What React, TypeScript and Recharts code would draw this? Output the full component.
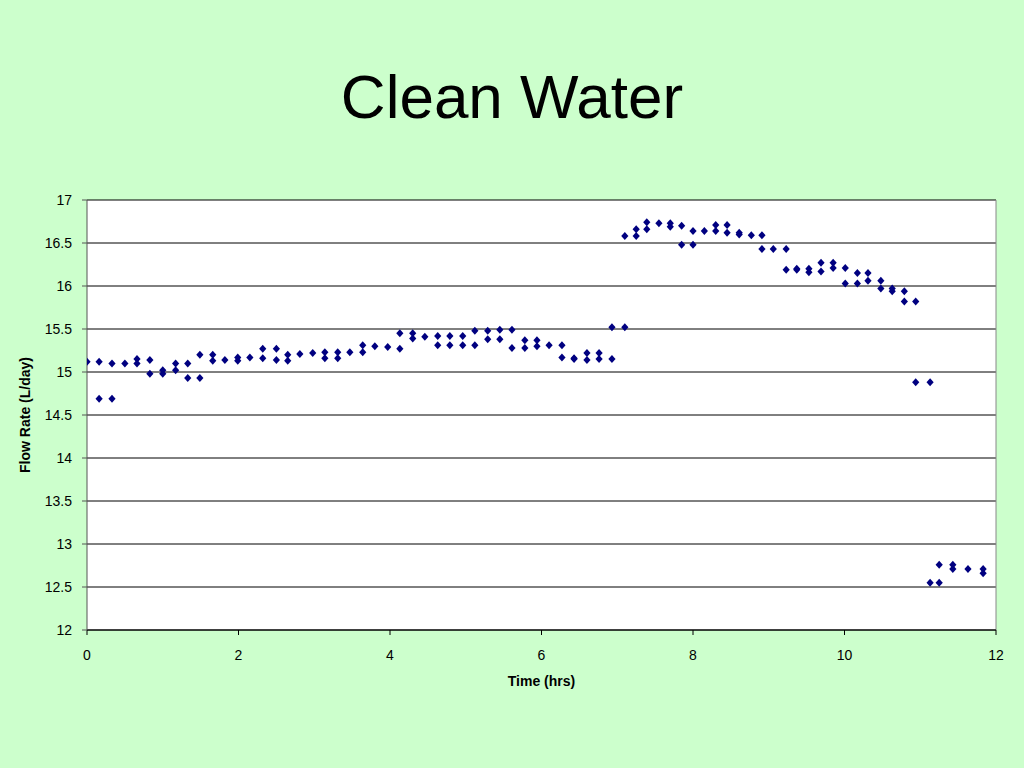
import React from "react";
import {
  ScatterChart,
  Scatter,
  XAxis,
  YAxis,
  CartesianGrid,
  ReferenceLine,
} from "recharts";

// time in hours, first and second reading (null when only one point)
const times = [
  0.0, 0.16, 0.33, 0.5, 0.66, 0.83, 1.0, 1.17, 1.33, 1.49, 1.66, 1.82, 1.99,
  2.15, 2.32, 2.5, 2.65, 2.81, 2.98, 3.14, 3.31, 3.47, 3.64, 3.8, 3.97, 4.13,
  4.3, 4.46, 4.63, 4.79, 4.96, 5.12, 5.29, 5.45, 5.61, 5.78, 5.94, 6.1, 6.27,
  6.43, 6.6, 6.76, 6.93, 7.1, 7.25, 7.39, 7.55, 7.7, 7.85, 8.0, 8.15, 8.3,
  8.45, 8.61, 8.77, 8.91, 9.06, 9.23, 9.37, 9.53, 9.69, 9.85, 10.01, 10.17,
  10.31, 10.48, 10.63, 10.79, 10.94, 11.13, 11.25, 11.43, 11.63, 11.83,
];

const readingA = [
  15.12, 15.12, 15.1, 15.1, 15.15, 15.14, 15.02, 15.1, 15.1, 15.2, 15.2, 15.14,
  15.17, 15.17, 15.27, 15.27, 15.2, 15.21, 15.22, 15.23, 15.23, 15.23, 15.31,
  15.3, 15.29, 15.45, 15.45, 15.41, 15.42, 15.42, 15.42, 15.48, 15.48, 15.49,
  15.49, 15.37, 15.37, 15.31, 15.31, 15.16, 15.22, 15.22, 15.52, 16.58, 16.66,
  16.74, 16.73, 16.73, 16.7, 16.64, 16.64, 16.71, 16.71, 16.62, 16.59, 16.59,
  16.43, 16.43, 16.2, 16.2, 16.27, 16.27, 16.21, 16.15, 16.15, 16.06, 15.97,
  15.94, 15.82, 14.88, 12.76, 12.76, 12.71, 12.71,
];

const readingB = [
  null, 14.69, 14.69, null, 15.1, 14.98, 14.98, 15.02, 14.93, 14.93, 15.13,
  null, 15.13, null, 15.16, 15.14, 15.13, null, null, 15.16, 15.16, null,
  15.23, null, null, 15.27, 15.39, null, 15.31, 15.31, 15.31, 15.31, 15.38,
  15.38, 15.28, 15.28, 15.3, null, 15.17, 15.15, 15.14, 15.15, 15.15, 15.52,
  16.58, 16.66, null, 16.69, 16.48, 16.48, null, 16.64, 16.62, 16.6, null,
  16.43, null, 16.19, 16.19, 16.16, 16.17, 16.21, 16.03, 16.03, 16.06, 15.97,
  15.94, 15.82, 14.88, 12.55, 12.55, 12.71, null, 12.66,
];

const xTicks = [0, 2, 4, 6, 8, 10, 12];
const yTicks = [12, 12.5, 13, 13.5, 14, 14.5, 15, 15.5, 16, 16.5, 17];

const points: { t: number; flow: number }[] = [];
times.forEach((t, i) => {
  points.push({ t, flow: readingA[i] });
  if (readingB[i] !== null) points.push({ t, flow: readingB[i] as number });
});

const FONT = '"Liberation Sans", Arial, sans-serif';

const Diamond = (props: any) => {
  const { cx, cy } = props;
  if (cx == null || cy == null) return null;
  return (
    <polygon
      points={`${cx},${cy - 4} ${cx + 3.6},${cy} ${cx},${cy + 4} ${cx - 3.6},${cy}`}
      fill="#000080"
    />
  );
};

export default function App() {
  return (
    <div
      style={{
        position: "absolute",
        left: 0,
        top: 0,
        width: 1024,
        height: 768,
        background: "#ccffcc",
        fontFamily: FONT,
        overflow: "hidden",
      }}
    >
      <div
        style={{
          position: "absolute",
          left: 0,
          width: 1024,
          top: 62,
          textAlign: "center",
          fontSize: 62,
          lineHeight: "70px",
          color: "#000",
        }}
      >
        Clean Water
      </div>

      <ScatterChart
        width={1024}
        height={768}
        margin={{ top: 200, right: 28, bottom: 108, left: 0 }}
        style={{ position: "absolute", left: 0, top: 0 }}
      >
        <CartesianGrid
          vertical={false}
          stroke="#000"
          fill="#ffffff"
          fillOpacity={1}
        />
        <XAxis
          type="number"
          dataKey="t"
          domain={[0, 12]}
          ticks={xTicks}
          height={30}
          tickSize={5}
          tickMargin={15}
          stroke="#000"
          tick={{ fill: "#000", fontSize: 14, fontFamily: FONT }}
          allowDataOverflow
        />
        <YAxis
          type="number"
          dataKey="flow"
          domain={[12, 17]}
          ticks={yTicks}
          width={87}
          tickSize={5}
          tickMargin={10}
          stroke="#555"
          tick={{ fill: "#000", fontSize: 14, fontFamily: FONT }}
          allowDataOverflow
        />
        <ReferenceLine x={12} stroke="#888" />
        <Scatter
          data={points}
          shape={Diamond}
          isAnimationActive={false}
        />
      </ScatterChart>

      <div
        style={{
          position: "absolute",
          left: 87,
          width: 909,
          top: 673,
          textAlign: "center",
          fontSize: 14,
          fontWeight: "bold",
          color: "#000",
        }}
      >
        Time (hrs)
      </div>
      <div
        style={{
          position: "absolute",
          left: 25,
          top: 415,
          transform: "translate(-50%, -50%) rotate(-90deg)",
          whiteSpace: "nowrap",
          fontSize: 14,
          fontWeight: "bold",
          color: "#000",
        }}
      >
        Flow Rate (L/day)
      </div>
    </div>
  );
}
